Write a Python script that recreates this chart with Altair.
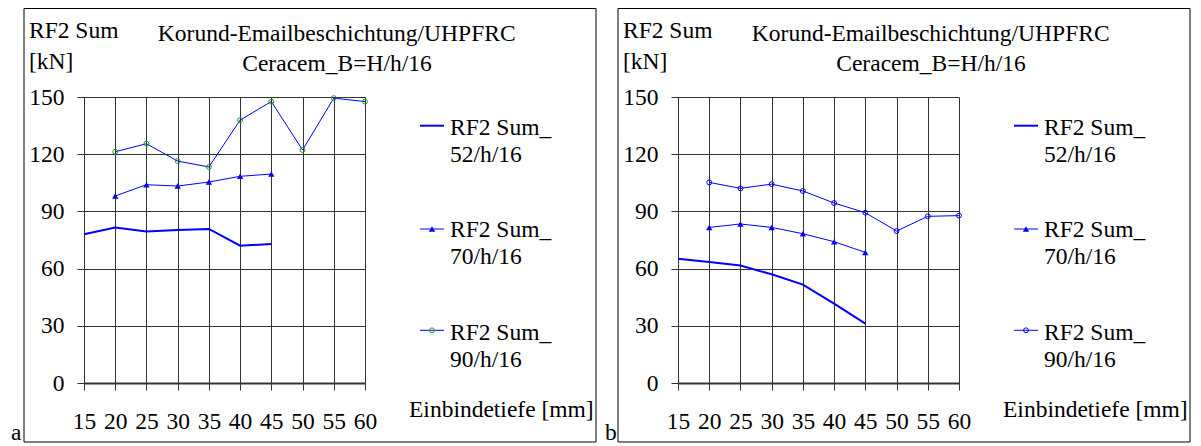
import altair as alt
import pandas as pd

FONT = "Liberation Serif"
FS = 23.5
BLUE = "#0000ff"
GREEN = "#1f9a1f"
GRID = "#333333"

# --- data -------------------------------------------------------------------
depth52 = [15, 20, 25, 30, 35, 40, 45]
depth70 = [20, 25, 30, 35, 40, 45]
depth90 = [20, 25, 30, 35, 40, 45, 50, 55, 60]

# panel a
a52 = [78.0, 81.6, 79.5, 80.2, 80.8, 72.0, 72.9]
a70 = [98.1, 104.0, 103.3, 105.4, 108.4, 109.6]
a90 = [121.3, 125.5, 116.4, 113.3, 137.9, 147.6, 122.2, 149.4, 147.6]

# panel b
b52 = [65.2, 63.5, 61.6, 57.0, 51.6, 41.6, 31.1]
b70 = [81.6, 83.4, 81.6, 78.3, 74.1, 68.5]
b90 = [105.2, 102.1, 104.3, 100.7, 94.4, 89.3, 79.7, 87.4, 87.8]

x_ticks = [15, 20, 25, 30, 35, 40, 45, 50, 55, 60]
y_ticks = [0, 30, 60, 90, 120, 150]

y_label = ["RF2 Sum", "[kN]"]
title_lines = ["Korund-Emailbeschichtung/UHPFRC", "Ceracem_B=H/h/16"]
legend_names = [["RF2 Sum_", "52/h/16"], ["RF2 Sum_", "70/h/16"], ["RF2 Sum_", "90/h/16"]]
x_label = "Einbindetiefe [mm]"
panel_tags = ["a", "b"]

W, H = 281, 286

AXIS_COMMON = dict(
    title=None, format="d", grid=True, gridColor=GRID, gridWidth=1, gridOpacity=1,
    ticks=True, tickColor=GRID, tickSize=7, tickWidth=1, tickOpacity=1,
    labelFont=FONT, labelFontSize=FS, labelColor="black",
    labelFlush=False, labelOverlap=False, domain=True, domainColor=GRID, zindex=0,
)

X = alt.X("d:Q", scale=alt.Scale(domain=[15, 60], nice=False, zero=False),
          axis=alt.Axis(values=x_ticks, labelBaseline="alphabetic", labelPadding=38.6,
                        labelAngle=0, domainWidth=2, **AXIS_COMMON))
Y = alt.Y("v:Q", scale=alt.Scale(domain=[0, 150], nice=False),
          axis=alt.Axis(values=y_ticks, labelPadding=13, domainWidth=1, **AXIS_COMMON))

ONE = alt.Data(values=[{}])


def text(s, x, y, align="left"):
    return alt.Chart(ONE).mark_text(
        text=s, align=align, baseline="alphabetic", font=FONT, fontSize=FS, color="black"
    ).encode(x=alt.value(x), y=alt.value(y))


def rule(x1, y1, x2, y2, color="black", width=1):
    return alt.Chart(ONE).mark_rule(color=color, strokeWidth=width).encode(
        x=alt.value(x1), x2=alt.value(x2), y=alt.value(y1), y2=alt.value(y2))


def panel(v52, v70, v90, circ_color, tag):
    d52 = pd.DataFrame({"d": depth52, "v": v52})
    d70 = pd.DataFrame({"d": depth70, "v": v70})
    d90 = pd.DataFrame({"d": depth90, "v": v90})

    L, R, T, B = -60, 512, -88.5, 345
    frame = [rule(L, T, R, T), rule(L, B, R, B), rule(L, T, L, B), rule(R, T, R, B)]

    l52 = alt.Chart(d52).mark_line(color=BLUE, strokeWidth=2).encode(x=X, y=Y)
    l70 = alt.Chart(d70).mark_line(color=BLUE, strokeWidth=1).encode(x=X, y=Y)
    p70 = alt.Chart(d70).mark_point(shape="triangle-up", filled=True, size=40,
                                    color=BLUE, opacity=1).encode(x=X, y=Y)
    l90 = alt.Chart(d90).mark_line(color=BLUE, strokeWidth=1).encode(x=X, y=Y)
    p90 = alt.Chart(d90).mark_point(shape="circle", filled=False, size=24, strokeWidth=1,
                                    color=circ_color, opacity=1).encode(x=X, y=Y)

    layers = [l52, l70, l90, p70, p90] + frame

    # texts
    layers.append(text(y_label[0], -55, -59.5))
    layers.append(text(y_label[1], -55, -28))
    layers.append(text(title_lines[0], 252.7, -56.5, align="center"))
    layers.append(text(title_lines[1], 253, -26, align="center"))
    layers.append(text(x_label, 325, 319.5))
    layers.append(text(tag, -73, 343))

    # legend
    rows = [(28.7, 37.6, 65.0), (132.0, 140.0, 167.3), (233.3, 243.3, 270.0)]
    for i, (sy, t1, t2) in enumerate(rows):
        layers.append(rule(336, sy, 360, sy, color=BLUE, width=2 if i == 0 else 1))
        layers.append(text(legend_names[i][0], 366, t1))
        layers.append(text(legend_names[i][1], 366, t2))
    layers.append(alt.Chart(ONE).mark_point(shape="triangle-up", filled=True, size=40,
                                            color=BLUE, opacity=1)
                  .encode(x=alt.value(348), y=alt.value(rows[1][0])))
    layers.append(alt.Chart(ONE).mark_point(shape="circle", filled=False, size=24,
                                            strokeWidth=1, color=circ_color, opacity=1)
                  .encode(x=alt.value(348), y=alt.value(rows[2][0])))

    return alt.layer(*layers).properties(width=W, height=H)


left = panel(a52, a70, a90, GREEN, panel_tags[0])
right = panel(b52, b70, b90, BLUE, panel_tags[1])

chart = alt.hconcat(left, right, spacing=8,
                    padding={"left": 3, "top": 0, "right": 0, "bottom": 0}
                    ).configure_view(stroke=None)

chart.save("out.html", embed_options={"renderer": "svg", "actions": False})
